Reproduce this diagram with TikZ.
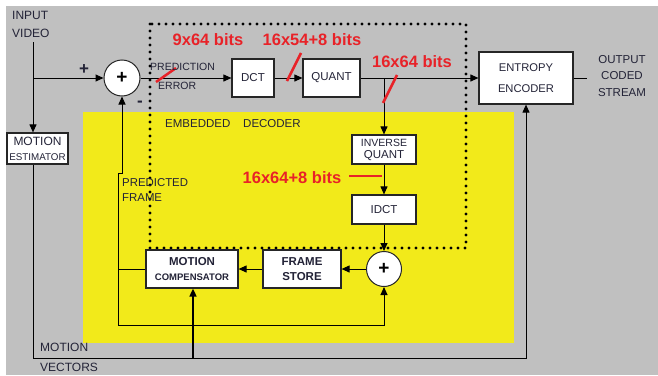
\documentclass[tikz,border=0pt]{standalone}
\usepackage{fontspec}
\setmainfont{Liberation Sans}
\usetikzlibrary{arrows.meta}
\definecolor{bg}{RGB}{192,192,192}
\definecolor{yel}{RGB}{242,234,26}
\definecolor{txt}{RGB}{35,35,55}
\definecolor{redl}{RGB}{232,34,40}
\begin{document}
\begin{tikzpicture}[x=1pt,y=-1pt,
  blk/.style={draw=black!85, line width=1.2pt, fill=white, inner sep=0pt, align=center, text=txt},
  sumc/.style={circle, draw=black!85, line width=1pt, fill=white, minimum size=36pt, inner sep=0pt, font=\bfseries\fontsize{19}{19}\selectfont},
  wire/.style={line width=1pt, black},
  arr/.style={wire, -{Triangle[length=8pt,width=7pt]}},
  lbl/.style={text=txt, inner sep=0pt, font=\fontsize{11.5}{14}\selectfont},
  bits/.style={text=redl, font=\bfseries\fontsize{16.5}{18}\selectfont, inner sep=0pt},
  slash/.style={redl, line width=2.5pt}]
\useasboundingbox (0,0) rectangle (658,375);
\fill[white] (0,0) rectangle (658,375);
\fill[bg] (6,6) rectangle (658,375);
\fill[yel] (83,112) rectangle (514,343);
\draw[line width=3.2pt, line cap=round, dash pattern=on 0pt off 7pt] (150,24) rectangle (466,248);

% blocks
\node[sumc] (add1) at (122,78) {+};
\node[blk, minimum width=42pt, minimum height=38pt, font=\fontsize{11.5}{13}\selectfont] (dct) at (253,78) {DCT};
\node[blk, minimum width=57pt, minimum height=38pt, font=\fontsize{11.5}{13}\selectfont] (quant) at (331.5,78) {QUANT};
\node[blk, minimum width=94pt, minimum height=52pt, font=\fontsize{11.2}{21}\selectfont] (ent) at (526,78) {ENTROPY\\ENCODER};
\node[blk, minimum width=64pt, minimum height=29pt, font=\fontsize{10.5}{12}\selectfont] (iq) at (384,149.5) {INVERSE\\{\fontsize{11.5}{12}\selectfont QUANT}};
\node[blk, minimum width=64pt, minimum height=29pt, font=\fontsize{11.5}{13}\selectfont] (idct) at (384,209.5) {IDCT};
\node[sumc, minimum size=35pt] (add2) at (384,269) {+};
\node[blk, minimum width=78pt, minimum height=38pt, font=\bfseries\fontsize{11.5}{15}\selectfont] (fs) at (302,269) {FRAME\\STORE};
\node[blk, minimum width=92pt, minimum height=38pt, font=\bfseries\fontsize{11.5}{15}\selectfont] (mc) at (192,269) {MOTION\\{\fontsize{9.5}{15}\selectfont COMPENSATOR}};
\node[blk, minimum width=61pt, minimum height=31pt, font=\fontsize{12}{15}\selectfont] (me) at (37.5,148.5) {MOTION\\{\fontsize{9.8}{15}\selectfont ESTIMATOR}};

% coordinates
\coordinate (in1) at (33,42);
\coordinate (tap) at (33,78);
\coordinate (qtap) at (384,78);
\coordinate (fb1) at (118,325);
\coordinate (fb2) at (384,325);
\coordinate (mvl) at (33,358);
\coordinate (mvb) at (193,358);
\coordinate (mvr) at (526,358);
\coordinate (outend) at (587,78);

% connectors
\draw[arr] (in1) -- (in1 |- me.north);
\draw[arr] (tap) -- (add1.west);
\draw[arr] (add1.east) -- (dct.west);
\draw[arr] (dct.east) -- (quant.west);
\draw[arr] (quant.east) -- (ent.west);
\draw[arr] (qtap) -- (iq.north);
\draw[arr] (iq.south) -- (idct.north);
\draw[arr] (idct.south) -- (add2.north);
\draw[arr] (add2.west) -- (fs.east);
\draw[arr] (fs.west) -- (mc.east);
\draw[wire] (mc.west) -- (mc.west -| fb1);
\draw[arr] (fb1) -- (fb2) -- (add2.south);
\draw[arr] (fb1) -- (118,173) -- (122,173) -- (add1.south);
\draw[arr] (in1 |- me.south) -- (mvl) -- (mvr) -- (ent.south);
\draw[arr, line width=1.6pt] (mvb) -- (mvb |- mc.south);
\draw[wire] (ent.east) -- (outend);

% red marks
\draw[slash] (156,82) -- (176,68);
\draw[slash] (287,81) -- (301,53);
\draw[slash] (383,103) -- (397,75);
\draw[slash] (349,176) -- (382,176);
\node[bits] (b1) at (208,40) {9x64 bits};
\node[bits] (b2) at (312,40) {16x54+8 bits};
\node[bits] (b3) at (412,62) {16x64 bits};
\node[bits] (b4) at (292,178) {16x64+8 bits};

% labels
\node[lbl, anchor=west, font=\fontsize{12}{18}\selectfont, align=left] (inv) at (12,24) {INPUT\\VIDEO};
\node[lbl, font=\bfseries\fontsize{17}{17}\selectfont] (plus) at (84,70) {+};
\node[lbl, font=\bfseries\fontsize{17}{17}\selectfont] (minus) at (140,104) {-};
\node[lbl, anchor=west, font=\fontsize{10.5}{12}\selectfont] (pred) at (150,67) {PREDICTION};
\node[lbl, anchor=west, font=\fontsize{10.5}{12}\selectfont] (err) at (158,86) {ERROR};
\node[lbl, anchor=west] (emb) at (165,124) {EMBEDDED};
\node[lbl, anchor=west] (dec) at (243,124) {DECODER};
\node[lbl, anchor=west, align=left, font=\fontsize{11.4}{15}\selectfont] (pf) at (122,190.5) {PREDICTED\\FRAME};
\node[lbl, anchor=west, font=\fontsize{12}{14}\selectfont] (mv1) at (40,347) {MOTION};
\node[lbl, anchor=west, font=\fontsize{12}{14}\selectfont] (mv2) at (40,367) {VECTORS};
\node[lbl, align=center, font=\fontsize{11.5}{16.5}\selectfont] (out) at (622,76) {OUTPUT\\CODED\\STREAM};
\end{tikzpicture}
\end{document}
